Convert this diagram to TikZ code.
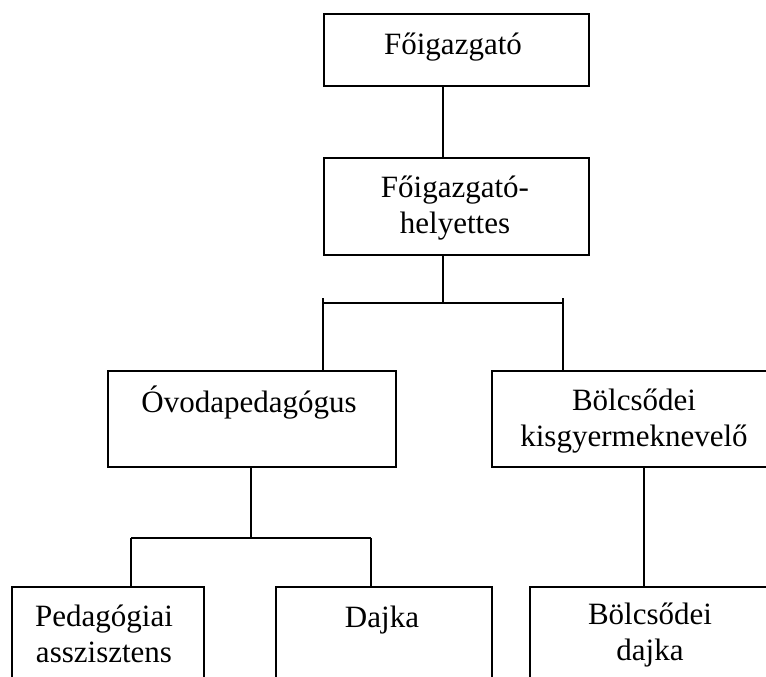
\documentclass[tikz,border=0pt]{standalone}
\usepackage{fontspec}
\setmainfont{Liberation Serif}
\usetikzlibrary{calc}
\begin{document}
\begin{tikzpicture}[x=1pt,y=-1pt,
  box/.style={draw=black,line width=2pt,inner sep=0pt,anchor=north west,fill=white},
  lbl/.style={inner sep=0pt,align=center,anchor=base,font=\fontsize{31pt}{36pt}\selectfont},
  conn/.style={draw=black,line width=2pt}]
\useasboundingbox (0,0) rectangle (766,677);
\clip (0,0) rectangle (766,677);
% junction points
\coordinate (j1) at (443,303);
\coordinate (tl) at (323,298);
\coordinate (tr) at (563,298);
\coordinate (j2) at (251,538);
\coordinate (jl) at (131,538);
\coordinate (jr) at (371,538);
\coordinate (rx) at (644,0);
% boxes
\node[box,minimum width=265pt,minimum height=72pt] (b1) at (323,13) {};
\node[box,minimum width=265pt,minimum height=97pt] (b2) at (323,157) {};
\node[box,minimum width=288pt,minimum height=96pt] (ov) at (107,370) {};
\node[box,minimum width=286pt,minimum height=96pt] (bk) at (491,370) {};
\node[box,minimum width=192pt,minimum height=120pt] (pa) at (11,586) {};
\node[box,minimum width=216pt,minimum height=120pt] (da) at (275,586) {};
\node[box,minimum width=242pt,minimum height=120pt] (bd) at (529,586) {};
% connectors
\draw[conn] (b1.south -| j1) -- (b2.north -| j1);
\draw[conn] (b2.south -| j1) -- (j1);
\draw[conn] (tl) -- (ov.north -| tl);
\draw[conn] (tr) -- (bk.north -| tr);
\draw[conn] (tl |- j1) -- (tr |- j1);
\draw[conn] (ov.south -| j2) -- (j2);
\draw[conn] (jl) -- (jr);
\draw[conn] (jl) -- (pa.north -| jl);
\draw[conn] (jr) -- (da.north -| jr);
\draw[conn,line width=1.3pt] (bk.south -| rx) -- (bd.north -| rx);
% labels
\node[lbl] (t1) at (453,55) {Főigazgató};
\node[lbl] (t2) at (455,233) {Főigazgató-\\helyettes};
\node[lbl] (t3) at (249,412) {Óvodapedagógus};
\node[lbl] (t4) at (634,446) {Bölcsődei\\kisgyermeknevelő};
\node[lbl] (t5) at (104,662) {Pedagógiai\\asszisztens};
\node[lbl] (t6) at (382,627) {Dajka};
\node[lbl] (t7) at (650,660) {Bölcsődei\\dajka};
\end{tikzpicture}
\end{document}
